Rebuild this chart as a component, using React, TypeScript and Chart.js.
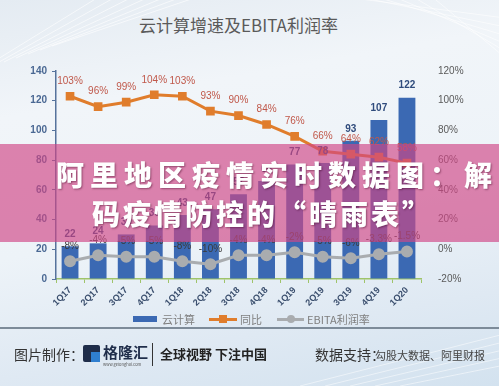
import React, { useEffect, useRef } from "react";
import { Chart, registerables } from "chart.js";

Chart.register(...registerables);

const categories = ["1Q17", "2Q17", "3Q17", "4Q17", "1Q18", "2Q18", "3Q18", "4Q18", "1Q19", "2Q19", "3Q19", "4Q19", "1Q20"];
const cloudRevenue = [22, 24, 30, 36, 43, 47, 57, 66, 77, 78, 93, 107, 122];
const yoyGrowth = [103, 96, 99, 104, 103, 93, 90, 84, 76, 66, 64, 62, 58];
const ebitaMargin = [-8, -4, -5, -5, -8, -10, -4, -4, -2, -5, -6, -3.3, -1.5];
const seriesNames = ["云计算", "同比", "EBITA利润率"];
const chartTitle = "云计算增速及EBITA利润率";

const FONT = "'Liberation Sans', 'Noto Sans CJK SC', sans-serif";
const CJK = "'Noto Sans CJK SC', sans-serif";

const labelPlugin = {
  id: "valueLabels",
  afterDatasetsDraw(chart: any) {
    const ctx = chart.ctx;
    ctx.save();
    ctx.textAlign = "center";
    ctx.textBaseline = "middle";
    chart.data.datasets.forEach((ds: any, i: number) => {
      const meta = chart.getDatasetMeta(i);
      meta.data.forEach((el: any, j: number) => {
        const v = ds.data[j];
        let text = "";
        let off = 0;
        if (i === 0) {
          ctx.font = `bold 10px ${FONT}`;
          ctx.fillStyle = "#2f4b7c";
          text = String(v);
          off = 12;
        } else if (i === 1) {
          ctx.font = `10px ${FONT}`;
          ctx.fillStyle = "#c0584a";
          text = v + "%";
          off = 15;
        } else {
          ctx.font = `10px ${FONT}`;
          ctx.fillStyle = "#3a3a3a";
          text = v + "%";
          off = 15;
        }
        ctx.fillText(text, el.x, el.y - off);
      });
    });
    ctx.restore();
  },
};

function ChartCanvas() {
  const ref = useRef<HTMLCanvasElement | null>(null);
  useEffect(() => {
    if (!ref.current) return;
    const chart = new Chart(ref.current, {
      type: "bar",
      data: {
        labels: categories,
        datasets: [
          {
            type: "bar",
            label: seriesNames[0],
            data: cloudRevenue,
            backgroundColor: "#3b69b3",
            yAxisID: "y",
            barPercentage: 0.6,
            categoryPercentage: 1,
            order: 2,
          } as any,
          {
            type: "line",
            label: seriesNames[1],
            data: yoyGrowth,
            borderColor: "#e07d2c",
            backgroundColor: "#e07d2c",
            borderWidth: 3,
            pointStyle: "rect",
            pointRadius: 4,
            yAxisID: "y1",
            order: 1,
          },
          {
            type: "line",
            label: seriesNames[2],
            data: ebitaMargin,
            borderColor: "#a9acaf",
            backgroundColor: "#a9acaf",
            borderWidth: 3,
            pointStyle: "circle",
            pointRadius: 4.5,
            yAxisID: "y1",
            order: 0,
          },
        ],
      },
      options: {
        animation: false,
        responsive: false,
        maintainAspectRatio: false,
        layout: { padding: { top: 71, left: 0, right: 0, bottom: 0 } },
        plugins: { legend: { display: false }, title: { display: false }, tooltip: { enabled: false } },
        scales: {
          x: {
            afterFit: (s: any) => { s.height = 107; },
            grid: { display: true, drawOnChartArea: false, drawTicks: true, tickLength: 4, color: "#9fc46a", offset: true },
            border: { display: true, color: "#9fc46a", width: 1.5 },
            ticks: {
              minRotation: 45,
              maxRotation: 45,
              padding: 2,
              color: "#3b4f6e",
              font: { family: FONT, size: 9, weight: "bold" },
            },
          },
          y: {
            position: "left",
            min: 0,
            max: 140,
            afterFit: (s: any) => { s.width = 56; },
            grid: { display: true, drawOnChartArea: false, drawTicks: true, tickLength: 4, color: "#56739c" },
            border: { display: true, color: "#56739c", width: 1.5 },
            ticks: { stepSize: 20, padding: 5, color: "#4a6893", font: { family: FONT, size: 10, weight: "bold" } },
          },
          y1: {
            position: "right",
            min: -20,
            max: 120,
            afterFit: (s: any) => { s.width = 78; },
            grid: { display: false },
            border: { display: false },
            ticks: {
              stepSize: 20,
              padding: 9,
              color: "#5a5a5a",
              font: { family: FONT, size: 10 },
              callback: (v: any) => v + "%",
            },
          },
        },
      },
      plugins: [labelPlugin],
    });
    return () => chart.destroy();
  }, []);
  return <canvas ref={ref} width={499} height={386} style={{ position: "absolute", left: 0, top: 0, width: 499, height: 386 }} />;
}

export default function App() {
  return (
    <div
      style={{
        position: "fixed",
        left: 0,
        top: 0,
        width: 499,
        height: 386,
        overflow: "hidden",
        background: "linear-gradient(170deg, #e4ebf2 0%, #f1f5f9 25%, #edf3f8 55%, #dfe9f3 80%, #d3e2ef 100%)",
        fontFamily: CJK,
      }}
    >
      <svg width={499} height={386} style={{ position: "absolute", left: 0, top: 0 }}>
        {[0, 1, 2, 3, 4, 5, 6].map((k) => (
          <line key={"a" + k} x1={-20 + k * 12} y1={70 - k * 4} x2={110 + k * 18} y2={-10} stroke="#ffffff" strokeOpacity={0.6} strokeWidth={1} />
        ))}
        {[0, 1, 2, 3, 4, 5].map((k) => (
          <line key={"b" + k} x1={330 + k * 20} y1={-5} x2={520} y2={20 + k * 10} stroke="#ffffff" strokeOpacity={0.55} strokeWidth={1} />
        ))}
        {[0, 1, 2, 3, 4].map((k) => (
          <line key={"c" + k} x1={300 + k * 25} y1={386} x2={520} y2={330 + k * 8} stroke="#ffffff" strokeOpacity={0.5} strokeWidth={1} />
        ))}
      </svg>
      <div style={{ position: "absolute", left: 0, top: 12, width: 477, textAlign: "center", fontSize: 17, color: "#5a5a5a", lineHeight: "26px" }}>
        {chartTitle}
      </div>
      <ChartCanvas />
      {/* legend */}
      <div style={{ position: "absolute", top: 310, left: 0, width: 499, height: 18, fontSize: 11, color: "#7f7f7f" }}>
        <div style={{ position: "absolute", left: 133, top: 6, width: 24, height: 6, background: "#3b69b3" }} />
        <div style={{ position: "absolute", left: 162, top: 0, lineHeight: "18px" }}>{seriesNames[0]}</div>
        <div style={{ position: "absolute", left: 209, top: 8, width: 28, height: 3, background: "#e07d2c" }} />
        <div style={{ position: "absolute", left: 219, top: 5, width: 8, height: 8, background: "#e07d2c" }} />
        <div style={{ position: "absolute", left: 240, top: 0, lineHeight: "18px" }}>{seriesNames[1]}</div>
        <div style={{ position: "absolute", left: 277, top: 8, width: 27, height: 2.5, background: "#a9acaf" }} />
        <div style={{ position: "absolute", left: 287, top: 5, width: 8, height: 8, borderRadius: 4, background: "#a9acaf" }} />
        <div style={{ position: "absolute", left: 307, top: 0, lineHeight: "18px" }}>{seriesNames[2]}</div>
      </div>
      {/* divider */}
      <div style={{ position: "absolute", left: 0, top: 327, width: 499, height: 1.5, background: "#7d8b99" }} />
      {/* footer */}
      <div style={{ position: "absolute", left: 14, top: 344, fontSize: 14, color: "#333", lineHeight: "20px" }}>图片制作：</div>
      <div style={{ position: "absolute", left: 83, top: 345, width: 17, height: 17, background: "#1f2d4a", borderRadius: 2 }} />
      <div style={{ position: "absolute", left: 91, top: 352, width: 9, height: 10, background: "#2f7fd0" }} />
      <div style={{ position: "absolute", left: 103, top: 342, fontSize: 15, fontWeight: 700, color: "#1f2d4a", lineHeight: "20px" }}>格隆汇</div>
      <div style={{ position: "absolute", left: 103, top: 362, fontSize: 4, color: "#555", lineHeight: "5px" }}>www.gelonghui.com</div>
      <div style={{ position: "absolute", left: 152, top: 343, width: 1, height: 23, background: "#333" }} />
      <div style={{ position: "absolute", left: 160, top: 344, fontSize: 13, fontWeight: 700, color: "#222", lineHeight: "20px" }}>全球视野 下注中国</div>
      <div style={{ position: "absolute", left: 315, top: 344, fontSize: 14, color: "#333", lineHeight: "20px" }}>数据支持：</div>
      <div style={{ position: "absolute", left: 375, top: 346, fontSize: 11, color: "#444", lineHeight: "18px" }}>勾股大数据、阿里财报</div>
      {/* overlay banner */}
      <div style={{ position: "absolute", left: 0, top: 144, width: 499, height: 98, background: "rgba(208, 70, 134, 0.66)" }} />
      <div style={{ position: "absolute", left: 56, top: 155, fontSize: 28, fontWeight: 900, color: "#fff", letterSpacing: 6, lineHeight: "38px", whiteSpace: "nowrap", textShadow: "1px 1px 2px rgba(60,0,30,0.45)" }}>
        阿里地区疫情实时数据图：解
      </div>
      <div style={{ position: "absolute", left: 92, top: 194, fontSize: 28, fontWeight: 900, color: "#fff", letterSpacing: 3, lineHeight: "38px", whiteSpace: "nowrap", textShadow: "1px 1px 2px rgba(60,0,30,0.45)" }}>
        码疫情防控的“晴雨表”
      </div>
    </div>
  );
}
